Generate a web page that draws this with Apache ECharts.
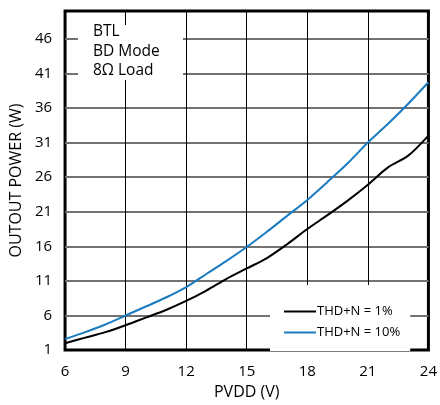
<!DOCTYPE html>
<html>
<head>
<meta charset="utf-8">
<script src="https://cdn.jsdelivr.net/npm/echarts@6/dist/echarts.min.js"></script>
<style>
  html, body { margin: 0; padding: 0; background: #fff; }
  #chart { width: 440px; height: 405px; }
</style>
</head>
<body>
<div id="chart"></div>
<script>
// supply voltage (V)
const pvdd = [6, 7, 8, 9, 10, 11, 12, 13, 14, 15, 16, 17, 18, 19, 20, 21, 22, 23, 24];
// output power (W)
const thd1 = [2.0, 2.8, 3.6, 4.6, 5.7, 6.8, 8.1, 9.6, 11.3, 12.8, 14.3, 16.3, 18.5, 20.5, 22.6, 24.9, 27.4, 29.1, 32.0];
const thd10 = [2.6, 3.6, 4.7, 6.0, 7.3, 8.6, 10.1, 12.0, 13.9, 15.9, 18.1, 20.4, 22.7, 25.3, 28.0, 31.0, 33.7, 36.6, 39.7];
const noteLines = ['BTL', 'BD Mode', '8Ω Load'];

const font = 'Open Sans, Liberation Sans, sans-serif';

const chart = echarts.init(document.getElementById('chart'), null, { renderer: 'canvas' });

const pairs = (ys) => pvdd.map((x, i) => [x, ys[i]]);

chart.setOption({
    backgroundColor: '#fff',
    animation: false,
    grid: {
        left: 63, right: 9, top: 11, bottom: 51,
        show: true,
        borderColor: '#000',
        borderWidth: 3,
        backgroundColor: 'transparent'
    },
    xAxis: {
        type: 'value',
        min: 6, max: 24, interval: 3,
        name: 'PVDD (V)',
        nameLocation: 'middle',
        nameGap: 33,
        nameTextStyle: { color: '#000', fontSize: 16, fontFamily: font },
        axisLine: { show: false },
        axisTick: { show: false },
        axisLabel: { color: '#000', fontSize: 15, fontFamily: font, margin: 14 },
        splitLine: { showMinLine: false, showMaxLine: false, lineStyle: { color: '#000', width: 1 } }
    },
    yAxis: {
        type: 'value',
        min: 1, max: 50, interval: 5,
        name: 'OUTOUT POWER (W)',
        nameLocation: 'middle',
        nameGap: 37,
        nameTextStyle: { color: '#000', fontSize: 16, fontFamily: font },
        axisLine: { show: false },
        axisTick: { show: false },
        axisLabel: { color: '#000', fontSize: 15, fontFamily: font, margin: 13, showMaxLabel: false },
        splitLine: { showMinLine: false, showMaxLine: false, lineStyle: { color: '#727272', width: 2 } }
    },
    legend: {
        orient: 'vertical',
        left: 270, top: 285,
        width: 147,
        backgroundColor: '#fff',
        padding: [20, 10, 12, 14],
        itemGap: 8,
        itemWidth: 32,
        itemHeight: 2,
        icon: 'rect',
        textStyle: { color: '#000', fontSize: 13, fontFamily: font, padding: [0, 0, 0, -4] },
        data: ['THD+N = 1%', 'THD+N = 10%']
    },
    graphic: [{
        type: 'rect',
        left: 78, top: 25,
        z: 100,
        shape: { width: 105, height: 55 },
        style: { fill: '#fff' }
    }].concat(noteLines.map((t, i) => ({
        type: 'text',
        left: 93, top: 24 + i * 19.5,
        z: 101,
        style: { text: t, fill: '#000', font: '15.5px ' + font }
    })))
    ,
    series: [{
        name: 'THD+N = 1%',
        type: 'line',
        data: pairs(thd1),
        smooth: 0.3,
        showSymbol: false,
        lineStyle: { color: '#000', width: 2 },
        itemStyle: { color: '#000' }
    }, {
        name: 'THD+N = 10%',
        type: 'line',
        data: pairs(thd10),
        smooth: 0.3,
        showSymbol: false,
        lineStyle: { color: '#1a7bc1', width: 2 },
        itemStyle: { color: '#1a7bc1' }
    }]
});
</script>
</body>
</html>
